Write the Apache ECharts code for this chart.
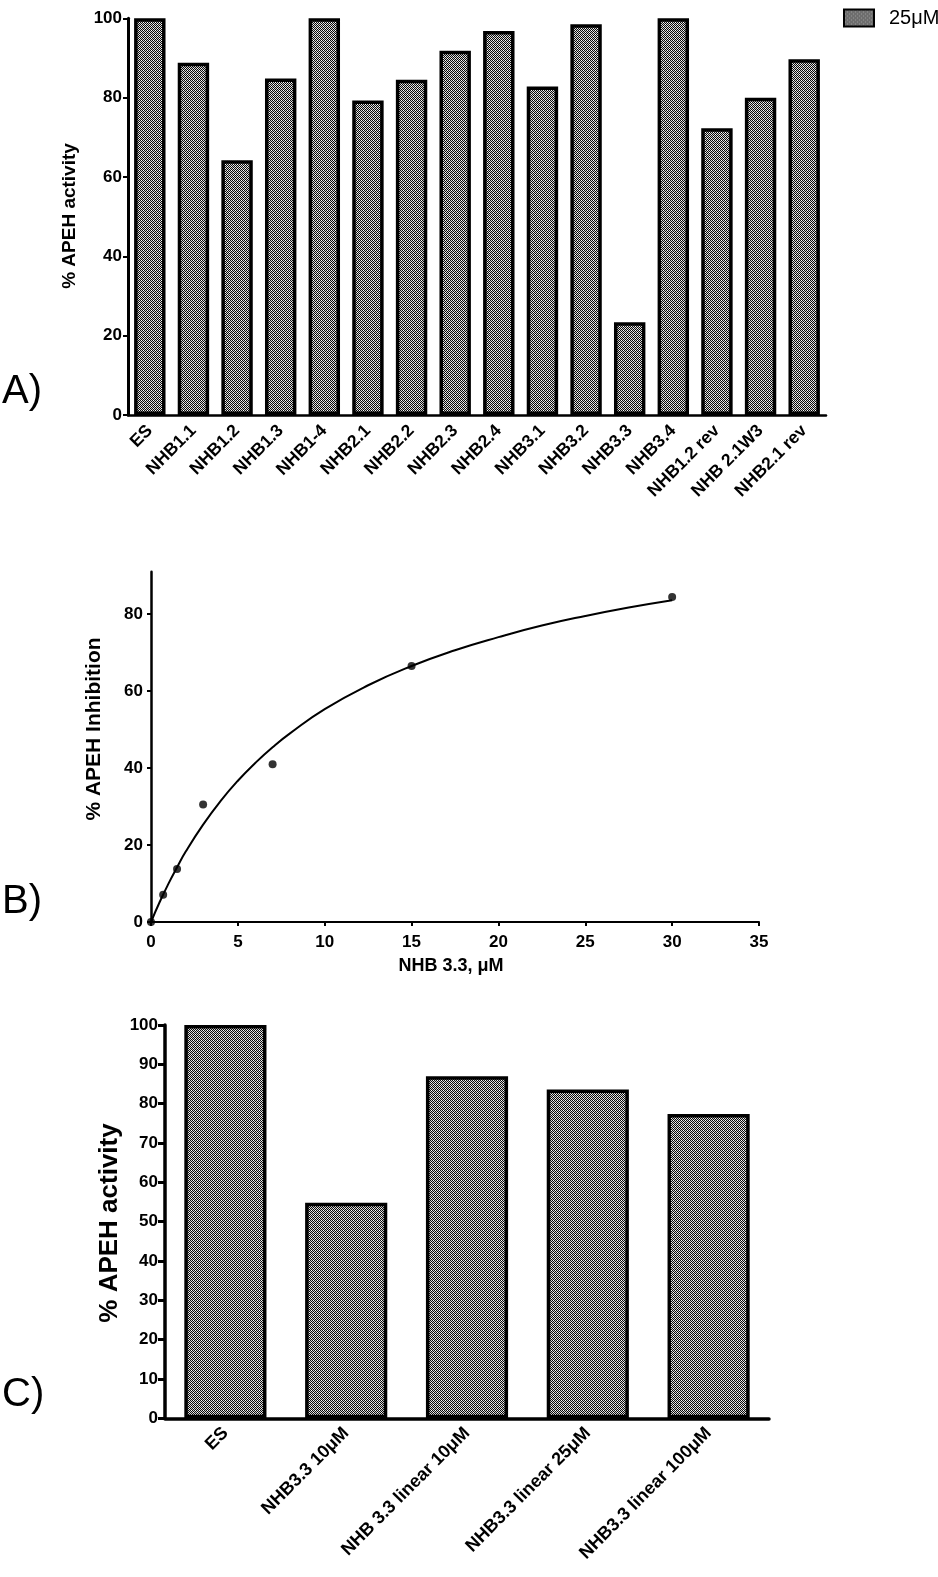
<!DOCTYPE html>
<html><head><meta charset="utf-8">
<script src="https://cdn.jsdelivr.net/npm/echarts@6/dist/echarts.min.js"></script>
<style>html,body{margin:0;padding:0;background:#fff}#c{width:938px;height:1577px}</style>
</head><body><div id="c"></div>
<script>
// ---- Panel A data ----
const catsA = ['ES','NHB1.1','NHB1.2','NHB1.3','NHB1-4','NHB2.1','NHB2.2','NHB2.3','NHB2.4','NHB3.1','NHB3.2','NHB3.3','NHB3.4','NHB1.2 rev','NHB 2.1W3','NHB2.1 rev'];
const valsA = [100,88.8,64.2,84.8,100,79.3,84.5,91.8,96.8,82.8,98.5,23.4,100,72.3,80.0,89.7];
const seriesNameA = '25μM';
// ---- Panel B data ----
const pointsB = [[0,0],[0.7,7.1],[1.5,13.8],[3,30.5],[7,41],[15,66.5],[30,84.4]];
const curveB = [[0,0],[0.5,5.2],[1,9.9],[1.5,14.2],[2,18.3],[3,25.3],[4,31.4],[5,36.7],[6,41.3],[7,45.4],[8,49.0],[10,55.3],[12.5,61.5],[15,66.5],[17.5,70.6],[20,74.0],[22.5,77.0],[25,79.5],[27.5,81.7],[30,83.6]];
const ticksBy = [0,20,40,60,80];
// ---- Panel C data ----
const catsC = ['ES','NHB3.3 10μM','NHB 3.3 linear 10μM','NHB3.3 linear 25μM','NHB3.3 linear 100μM'];
const valsC = [100,54.8,87.0,83.6,77.4];

const FF = "'Liberation Sans', Arial, Helvetica, sans-serif";

function makePattern(){
  const c=document.createElement('canvas'); c.width=4; c.height=4;
  const g=c.getContext('2d'); g.fillStyle='#d2d2d2'; g.fillRect(0,0,4,4);
  g.fillStyle='#0a0a0a';
  for(let y=0;y<4;y++)for(let x=0;x<4;x++) if((x+y)%2===0) g.fillRect(x,y,1,1);
  g.fillStyle='#ffffff'; g.fillRect(1,0,1,1); g.fillRect(3,2,1,1);
  return c;
}
const pat = {image: makePattern(), repeat: 'repeat'};

const chart = echarts.init(document.getElementById('c'), null, {renderer:'canvas'});
const lab = (size, extra) => Object.assign({color:'#000', fontFamily:FF, fontWeight:'bold', fontSize:size}, extra||{});

chart.setOption({
  animation:false,
  backgroundColor:'#fff',
  legend:{
    left:838, top:3, itemWidth:30, itemHeight:17, icon:'rect',
    data:[seriesNameA],
    textStyle:{color:'#000', fontFamily:FF, fontSize:20, padding:[0,0,0,10]}
  },
  grid:[
    {left:128, top:18.3, width:698, height:396.7},
    {left:151, top:571.7, width:608, height:350.3},
    {left:165, top:1025, width:604, height:393.3}
  ],
  xAxis:[
    {type:'category', gridIndex:0, data:catsA,
     axisLine:{lineStyle:{color:'#000', width:2.5}},
     axisTick:{alignWithLabel:true, length:5, lineStyle:{color:'#000', width:2}},
     axisLabel:lab(17.5,{rotate:45, interval:0, margin:13}),
     splitLine:{show:false}},
    {type:'value', gridIndex:1, min:0, max:35, interval:5,
     axisLine:{show:true, lineStyle:{color:'#000', width:2}},
     axisTick:{show:true, length:4, lineStyle:{color:'#000', width:2}},
     axisLabel:lab(17,{margin:12}),
     splitLine:{show:false}},
    {type:'category', gridIndex:2, data:catsC,
     axisLine:{lineStyle:{color:'#000', width:3.5}},
     axisTick:{alignWithLabel:true, length:7, lineStyle:{color:'#000', width:3}},
     axisLabel:lab(18,{rotate:45, interval:0, margin:12}),
     splitLine:{show:false}}
  ],
  yAxis:[
    {type:'value', gridIndex:0, min:0, max:100, interval:20,
     axisLine:{show:true, lineStyle:{color:'#000', width:3}},
     axisTick:{show:true, length:5, lineStyle:{color:'#000', width:2}},
     axisLabel:lab(17,{margin:6}),
     splitLine:{show:false}},
    {type:'value', gridIndex:1, min:0, max:91, interval:20,
     axisLine:{show:true, lineStyle:{color:'#000', width:2.5}},
     axisTick:{show:true, length:4, customValues:ticksBy, lineStyle:{color:'#000', width:2}},
     axisLabel:lab(17,{margin:8, customValues:ticksBy}),
     splitLine:{show:false}},
    {type:'value', gridIndex:2, min:0, max:100, interval:10,
     axisLine:{show:true, lineStyle:{color:'#000', width:3.5}},
     axisTick:{show:true, length:7, lineStyle:{color:'#000', width:3}},
     axisLabel:lab(17,{margin:7}),
     splitLine:{show:false}}
  ],
  graphic:[
    {type:'text', left:2, top:372, style:{text:'A)', font:"40px "+FF, fill:'#000'}},
    {type:'text', left:2, top:882, style:{text:'B)', font:"40px "+FF, fill:'#000'}},
    {type:'text', left:2, top:1375, style:{text:'C)', font:"40px "+FF, fill:'#000'}},
    {type:'text', x:70, y:216, rotation:Math.PI/2,
     style:{text:'% APEH activity', font:"bold 19px "+FF, fill:'#000', align:'center', verticalAlign:'middle'}},
    {type:'text', x:94, y:729, rotation:Math.PI/2,
     style:{text:'% APEH Inhibition', font:"bold 21px "+FF, fill:'#000', align:'center', verticalAlign:'middle'}},
    {type:'text', x:451, y:966,
     style:{text:'NHB 3.3, μM', font:"bold 18px "+FF, fill:'#000', align:'center', verticalAlign:'middle'}},
    {type:'text', x:110, y:1223, rotation:Math.PI/2,
     style:{text:'% APEH activity', font:"bold 26px "+FF, fill:'#000', align:'center', verticalAlign:'middle'}}
  ],
  series:[
    {name:seriesNameA, type:'bar', xAxisIndex:0, yAxisIndex:0, data:valsA, barWidth:'72%',
     itemStyle:{color:pat, borderColor:'#000', borderWidth:3.5}},
    {type:'line', xAxisIndex:1, yAxisIndex:1, data:curveB, smooth:true, showSymbol:false, silent:true,
     lineStyle:{color:'#000', width:2}},
    {type:'scatter', xAxisIndex:1, yAxisIndex:1, data:pointsB, symbolSize:8,
     itemStyle:{color:'#000'}},
    {type:'bar', xAxisIndex:2, yAxisIndex:2, data:valsC, barWidth:'68%',
     itemStyle:{color:pat, borderColor:'#000', borderWidth:3.5}}
  ]
});
</script>
</body></html>
